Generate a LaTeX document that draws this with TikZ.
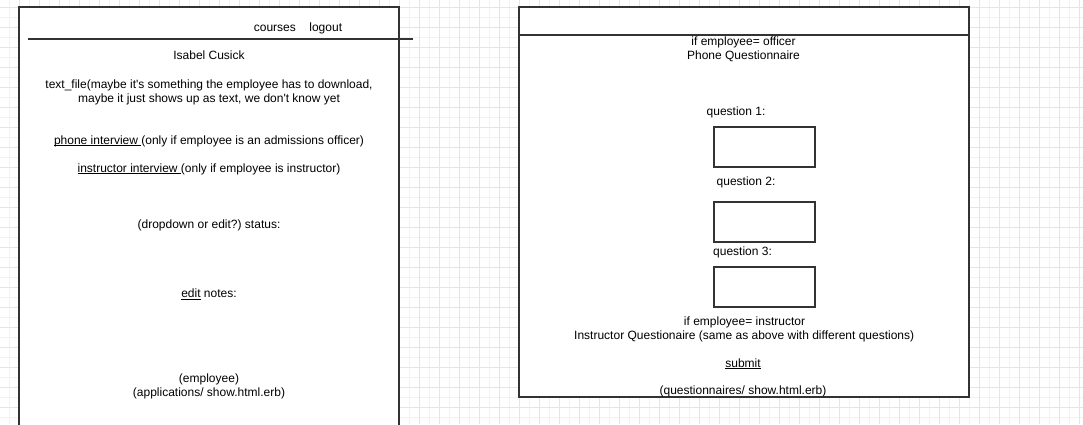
\documentclass[tikz,border=0pt]{standalone}
\usepackage{fontspec}
\setmainfont{Liberation Sans}
\frenchspacing
\definecolor{gridmaj}{RGB}{228,226,248}
\definecolor{gridmin}{RGB}{242,241,250}
\definecolor{edge}{RGB}{51,51,51}
\newcommand{\myul}[1]{\setbox0\hbox{#1}\rlap{\rule[-1.8pt]{\wd0}{0.7pt}}\box0\relax}
\tikzset{
  lbl/.style={anchor=base, inner sep=0pt, outer sep=0pt, text=black, font=\fontsize{12}{14}\selectfont\frenchspacing},
  panel/.style={draw=edge, fill=white, line width=2pt, inner sep=0pt, outer sep=0pt},
  field/.style={draw=edge, fill=white, line width=2pt, minimum width=101pt, minimum height=40pt, inner sep=0pt, outer sep=0pt},
  rule/.style={draw=edge, line width=2pt}
}
\begin{document}
\begin{tikzpicture}[x=1pt,y=-1pt]
\useasboundingbox (0,0) rectangle (1083,424);
\clip (0,0) rectangle (1083,424);
\fill[white] (0,0) rectangle (1083,424);
% grid
\foreach \gx in {9.5,29.5,...,1089.5} \draw[gridmin, line width=1pt] (\gx,0) -- (\gx,424);
\foreach \gy in {17.5,37.5,...,430} \draw[gridmin, line width=1pt] (0,\gy) -- (1083,\gy);
\foreach \gx in {19.5,39.5,...,1089.5} \draw[gridmaj, line width=1pt] (\gx,0) -- (\gx,424);
\foreach \gy in {7.5,27.5,...,430} \draw[gridmaj, line width=1pt] (0,\gy) -- (1083,\gy);
% left panel
\node[panel, minimum width=380pt, minimum height=433.5pt] (lp) at (209,223.25) {};
\coordinate (lha) at (28,39.3);
\coordinate (lhb) at (413,39.3);
\draw[rule] (lha) -- (lhb);
\node[lbl] (nav) at (298,31.8) {courses\hspace{13.5pt}logout};
\node[lbl] (name) at (209,59.8) {Isabel Cusick};
\node[lbl] (tf1) at (209,88.2) {text\_file(maybe it\textquotesingle s something the employee has to download,};
\node[lbl] (tf2) at (209,102.2) {maybe it just shows up as text, we don\textquotesingle t know yet};
\node[lbl] (phone) at (209,144.3) {\myul{phone interview\ }(only if employee is an admissions officer)};
\node[lbl] (instr) at (209,172.1) {\myul{instructor interview\ }(only if employee is instructor)};
\node[lbl] (status) at (209,228.3) {(dropdown or edit?) status:};
\node[lbl] (notes) at (209,297.8) {\myul{edit} notes:};
\node[lbl] (emp) at (209,382) {(employee)};
\node[lbl] (app) at (209,396) {(applications/ show.html.erb)};
% right panel
\node[panel, minimum width=450pt, minimum height=389.5pt] (rp) at (743.5,201.75) {};
\draw[rule] (rp.west |- 0,35) -- (rp.east |- 0,35);
\node[lbl] (off) at (743.5,45.3) {if employee= officer};
\node[lbl] (pq) at (743.5,59.3) {Phone Questionnaire};
\node[lbl] (q1) at (736,115.3) {question 1:};
\node[field] (f1) at (764,147) {};
\node[lbl] (q2) at (746,185.3) {question 2:};
\node[field] (f2) at (764,222) {};
\node[lbl] (q3) at (742.5,255.3) {question 3:};
\node[field] (f3) at (764,287) {};
\node[lbl] (ins) at (744.5,325) {if employee= instructor};
\node[lbl] (iq) at (744.2,339) {Instructor Questionaire (same as above with different questions)};
\node[lbl] (sub) at (743,367) {\myul{submit}};
\node[lbl] (qs) at (743,394.3) {(questionnaires/ show.html.erb)};
\end{tikzpicture}
\end{document}
